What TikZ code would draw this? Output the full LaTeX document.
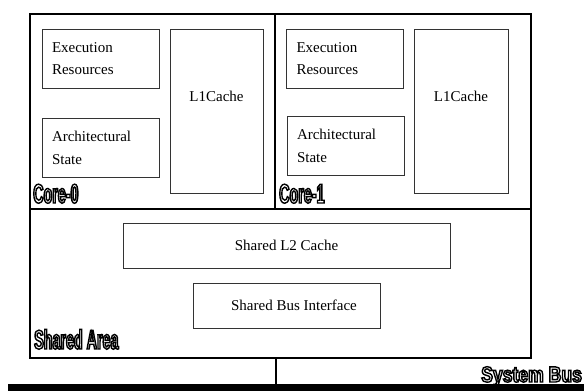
\documentclass[tikz,border=0pt]{standalone}
\usepackage{fontspec}
\setmainfont{Liberation Serif}
\newfontfamily\tagfont[FakeStretch=0.53]{Liberation Sans}
\newfontfamily\bustagfont[FakeStretch=0.8]{Liberation Sans}
\usetikzlibrary{positioning}
\usetikzlibrary{calc}

% hollow lettering for the area tags
\newcommand\hollow[1]{\special{pdf:literal direct 2 Tr 1.4 w 0 0 0 RG}#1\special{pdf:literal direct 0 Tr}}

\tikzset{
  unit/.style={draw=black!80,line width=1pt,inner xsep=10pt,align=left},
  tag/.style={inner sep=0pt,text=white,font=\tagfont\bfseries\fontsize{27}{27}\selectfont}
}

\begin{document}
\begin{tikzpicture}[x=1pt,y=-1pt,font=\fontsize{15}{22.7}\selectfont]
    \useasboundingbox (0,0) rectangle (584,391);
    % frames
    \begin{scope}[every node/.style={draw,line width=2pt,inner sep=0pt}]
    \node (core0) at (152.5,111.5) [minimum width=245pt,minimum height=195pt] {};
    \node (core1) at (403,111.5) [minimum width=256pt,minimum height=195pt] {};
    \node (shared) at (280.5,283.5) [minimum width=501pt,minimum height=149pt] {};
    \end{scope}
    % units in the cores
    \begin{scope}[every node/.style={unit,text width=97pt,minimum height=59pt}]
    \node (exec0) at (100.5,58.5) {Execution\\Resources};
    \node (arch0) at (100.5,148) {Architectural\\State};
    \node (exec1) at (345,58.5) {Execution\\Resources};
    \node (arch1) at (345.5,146) {Architectural\\State};
    \end{scope}
    \begin{scope}[every node/.style={draw=black!80,line width=1pt,minimum height=164pt}]
    \node (l1c0) at (216.5,111) [minimum width=93pt] {};
    \node (l1c1) at (461,111) [minimum width=94pt] {};
    \end{scope}
    \node (l1t0) at ([yshift=-68pt]l1c0.north) {L1Cache};
    \node (l1t1) at ([yshift=-68pt]l1c1.north) {L1Cache};
    % shared units
    \begin{scope}[every node/.style={draw=black!80,line width=1pt,minimum height=45pt}]
    \node (l2) at (286.5,245.5) [minimum width=327pt] {Shared L2 Cache\hspace{22pt}};
    \node (biu) at (286.5,305.5) [minimum width=187pt] {\hspace{15pt}Shared Bus Interface};
    \end{scope}
    % tags
    \node (tag0) at (33,203) [tag,anchor=base west] {\hollow{Core-0}};
    \node (tag1) at (279,203) [tag,anchor=base west] {\hollow{Core-1}};
    \node (tags) at (34,349) [tag,anchor=base west] {\hollow{Shared Area}};
    \node (tagb) at (481,382) [tag,anchor=base west,font=\bustagfont\bfseries\fontsize{22}{22}\selectfont] {\hollow{System Bus}};
    % bus
    \node (bus) at (296,387.5) [fill=black,inner sep=0pt,minimum width=576pt,minimum height=7pt] {};
    \draw[line width=2.5pt] (core0.east |- shared.south) -- (core0.east |- bus.north);
\end{tikzpicture}
\end{document}
